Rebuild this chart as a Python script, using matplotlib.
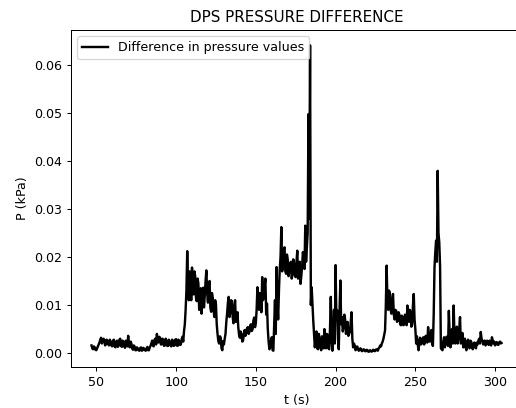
import numpy as np
import matplotlib
matplotlib.use('Agg')
import matplotlib.pyplot as plt

# sample times (s): whole seconds and the half seconds in between
t_start = 47
t_end = 304

# pressure difference at whole seconds, in 1e-3 kPa
p_milli = [
    1.6, 0.8, 1.2, 0.6, 1.4, 2.2, 3.2, 2.4, 2.8, 1.8,        # 47-56
    2.6, 1.6, 2.4, 1.4, 2.8, 1.2, 2.6, 1.5, 3.0, 1.3,        # 57-66
    2.4, 1.1, 2.2, 3.6, 1.2, 2.0, 0.7, 1.4, 0.6, 1.0,        # 67-76
    0.5, 1.2, 0.6, 0.9, 0.5, 1.3, 0.6, 1.5, 2.6, 1.4,        # 77-86
    3.0, 4.0, 2.2, 3.2, 1.8, 2.8, 1.6, 2.6, 1.5, 2.4,        # 87-96
    1.4, 2.6, 1.6, 2.9, 1.5, 2.4, 1.8, 3.4, 4.6, 9.0,        # 97-106
    21.2, 11.0, 15.8, 17.8, 12.2, 16.0, 10.8, 14.5, 11.2, 8.2,   # 107-116
    13.6, 12.0, 17.2, 10.5, 15.0, 8.6, 11.5, 7.5, 10.2, 4.0,     # 117-126
    2.0, 3.2, 0.6, 1.8, 4.0, 8.2, 11.7, 8.5, 10.8, 6.2,      # 127-136
    11.0, 7.0, 5.4, 3.2, 4.0, 2.6, 4.8, 4.2, 5.4, 4.4,       # 137-146
    6.0, 5.0, 7.4, 6.2, 13.7, 9.0, 11.7, 15.8, 12.0, 15.5,   # 147-156
    10.3, 2.5, 1.2, 3.3, 0.5, 11.0, 17.9, 7.0, 17.5, 26.2,   # 157-166
    18.0, 22.0, 16.5, 19.5, 17.0, 19.0, 16.5, 18.6, 15.8, 21.3,  # 167-176
    17.0, 14.4, 18.0, 20.0, 26.5, 22.0, 49.7, 64.0, 13.7, 6.8,   # 177-186
    1.2, 4.5, 0.8, 3.0, 0.6, 2.5, 5.0, 1.0, 3.8, 0.8,        # 187-196
    11.7, 0.5, 9.0, 18.3, 8.9, 0.8, 15.1, 7.5, 5.5, 7.0,     # 197-206
    5.0, 3.6, 4.5, 8.5, 1.2, 1.6, 0.8, 0.9, 0.6, 0.8,        # 207-216
    0.5, 0.7, 0.4, 0.6, 0.3, 0.5, 0.4, 0.6, 0.5, 0.7,        # 217-226
    1.0, 1.6, 2.0, 3.0, 4.7, 18.2, 9.0, 12.5, 8.2, 12.3,     # 227-236
    7.0, 8.8, 6.8, 8.0, 5.8, 7.5, 6.0, 7.4, 9.9, 6.5,        # 237-246
    8.6, 6.0, 12.3, 5.0, 3.5, 0.6, 3.2, 2.0, 3.3, 2.2,       # 247-256
    3.0, 5.4, 2.4, 4.8, 1.5, 17.8, 23.4, 37.9, 23.0, 1.0,    # 257-266
    0.6, 3.3, 2.0, 3.0, 8.8, 1.2, 5.0, 9.9, 2.0, 5.5,        # 267-276
    3.0, 7.5, 2.6, 1.2, 3.0, 0.6, 2.8, 1.0, 2.4, 0.8,        # 277-286
    2.2, 1.0, 1.8, 3.0, 4.4, 2.6, 2.0, 1.6, 2.6, 1.7,        # 287-296
    2.2, 3.3, 2.0, 1.6, 2.3, 1.7, 2.4, 2.1,                  # 297-304
]

# readings at the half seconds (47.5 ... 303.5), in 1e-3 kPa
p_half_milli = [
    1.0, 1.4, 0.7, 1.0, 1.8, 2.8, 2.0, 3.0, 1.6, 2.8,        # 47.5-56.5
    1.8, 2.8, 1.6, 2.6, 1.4, 2.4, 1.3, 2.8, 1.6, 2.6,        # 57.5-66.5
    1.4, 2.6, 1.4, 1.6, 2.4, 1.0, 1.6, 0.6, 1.2, 0.6,        # 67.5-76.5
    1.0, 0.5, 1.1, 0.6, 1.0, 0.6, 1.2, 2.0, 1.6, 2.8,        # 77.5-86.5
    1.8, 2.4, 3.4, 1.8, 3.0, 1.5, 3.0, 1.5, 2.8, 1.6,        # 87.5-96.5
    2.8, 1.5, 2.8, 1.6, 2.8, 1.7, 2.9, 2.4, 6.0, 13.0,       # 97.5-106.5
    14.0, 17.0, 11.0, 13.0, 17.0, 11.5, 15.5, 9.0, 13.5, 12.0,   # 107.5-116.5
    9.5, 15.0, 12.5, 14.0, 9.5, 12.5, 9.0, 11.0, 6.0, 2.5,   # 117.5-126.5
    3.5, 1.0, 2.5, 3.0, 6.5, 10.5, 7.5, 11.0, 7.5, 9.5,      # 127.5-136.5
    6.5, 8.5, 3.8, 4.5, 2.4, 4.0, 3.6, 5.2, 4.0, 5.8,        # 137.5-146.5
    4.6, 6.8, 5.4, 9.0, 11.0, 12.5, 8.5, 11.0, 14.0, 8.0,    # 147.5-156.5
    5.0, 0.8, 2.6, 0.6, 6.0, 4.0, 11.0, 13.0, 20.0, 17.0,    # 157.5-166.5
    21.5, 17.0, 20.5, 16.0, 18.5, 15.5, 19.5, 16.0, 19.0, 15.5,  # 167.5-176.5
    19.0, 16.0, 21.0, 17.5, 19.0, 25.0, 28.0, 10.0, 10.0, 4.0,   # 177.5-186.5
    3.0, 1.0, 4.0, 1.2, 3.5, 1.0, 3.0, 4.0, 1.0, 5.0,        # 187.5-196.5
    3.0, 5.0, 2.0, 7.0, 3.0, 9.0, 6.0, 4.5, 8.0, 4.0,        # 197.5-206.5
    6.5, 4.0, 6.5, 3.0, 2.0, 0.6, 1.4, 0.5, 1.0, 0.4,        # 207.5-216.5
    0.8, 0.4, 0.7, 0.3, 0.6, 0.3, 0.7, 0.4, 0.8, 0.5,        # 217.5-226.5
    1.2, 1.4, 2.4, 3.8, 10.0, 11.0, 13.0, 9.0, 11.0, 8.0,    # 227.5-236.5
    9.0, 6.5, 8.5, 6.0, 7.8, 5.8, 8.0, 5.8, 7.0, 9.0,        # 237.5-246.5
    5.5, 10.0, 7.0, 2.0, 1.8, 2.4, 1.8, 3.0, 1.8, 3.6,       # 247.5-256.5
    2.2, 3.0, 4.0, 2.0, 8.0, 21.0, 19.0, 25.0, 18.0, 0.8,    # 257.5-266.5
    2.4, 1.2, 3.4, 1.5, 4.0, 2.8, 2.0, 4.0, 4.0, 2.0,        # 267.5-276.5
    5.0, 2.0, 4.2, 2.2, 1.2, 2.4, 1.4, 2.6, 1.2, 2.0,        # 277.5-286.5
    1.2, 2.2, 2.6, 2.0, 3.0, 1.8, 2.6, 2.2, 2.0, 2.6,        # 287.5-296.5
    1.6, 2.6, 2.4, 2.0, 1.8, 2.2, 2.0,                       # 297.5-303.5
]


def main():
    t_whole = np.arange(t_start, t_end + 1)
    t_half = np.arange(t_start, t_end) + 0.5

    t = np.concatenate([t_whole, t_half])
    p = np.concatenate([p_milli, p_half_milli]) / 1000.0
    order = np.argsort(t)
    t = t[order]
    p = p[order]

    fig = plt.figure(figsize=(516 / 91, 408 / 91), dpi=91)
    # axes run slightly past the right edge, as in the cropped original
    ax = fig.add_axes([71 / 516, 41 / 408, 451 / 516, 337 / 408])

    ax.plot(t, p, color='black', linewidth=1.9, label='Difference in pressure values')

    ax.set_title('DPS PRESSURE DIFFERENCE')
    ax.set_xlabel('t (s)')
    ax.set_ylabel('P (kPa)')
    ax.legend(loc='upper left')

    fig.savefig('out.png', dpi=91)


if __name__ == "__main__":
    main()
